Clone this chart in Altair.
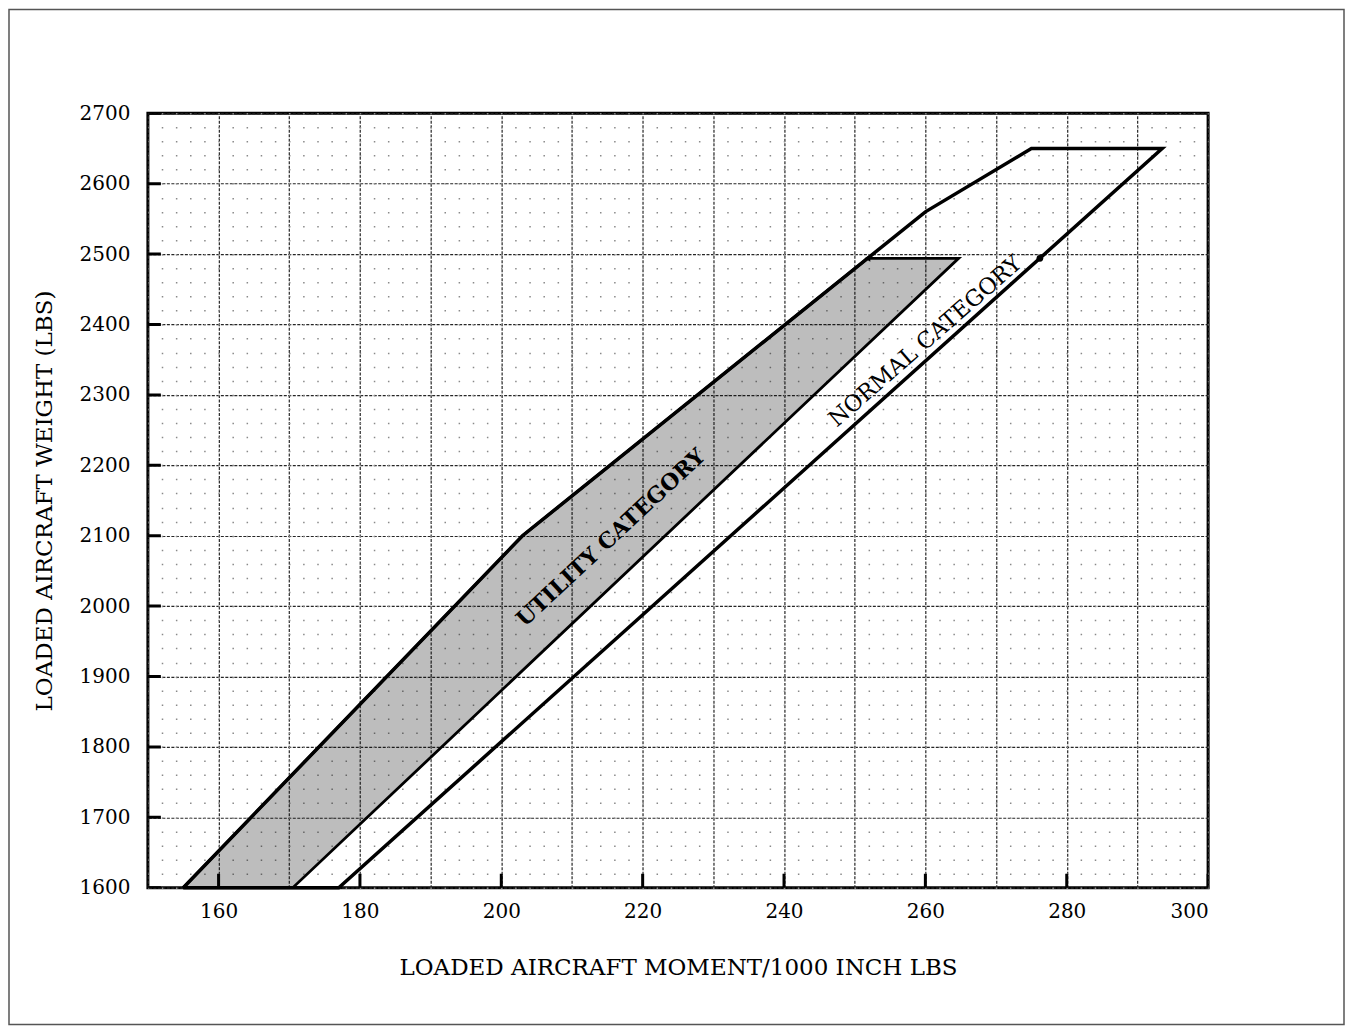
import altair as alt
import pandas as pd

# ---------------- data ----------------
x_tick_labels = [160, 180, 200, 220, 240, 260, 280, 300]
y_tick_labels = [1600, 1700, 1800, 1900, 2000, 2100, 2200, 2300, 2400, 2500, 2600, 2700]
x_grid_major = [150, 160, 170, 180, 190, 200, 210, 220, 230, 240, 250, 260, 270, 280, 290, 300]
y_grid_major = y_tick_labels
y_grid_minor = list(range(1600, 2701, 20))

# Normal category envelope (moment/1000, weight)
normal_x = [155.0, 203.0, 260.0, 275.0, 293.5, 177.0, 155.0]
normal_y = [1600, 2100, 2560, 2650, 2650, 1600, 1600]

# Utility category envelope (shaded)
utility_x = [155.0, 203.0, 251.8, 264.7, 170.5, 155.0]
utility_y = [1600, 2100, 2494, 2494, 1600, 1600]

label_text = ["UTILITY CATEGORY", "NORMAL CATEGORY"]
label_x = [215.5, 260.0]
label_y = [2097, 2376]
label_angle = [317, 319]

marker_x = [251.8, 276.2]
marker_y = [2494, 2494]
marker_shape = ["triangle-left", "circle"]

X_DOMAIN = [150, 300]
Y_DOMAIN = [1600, 2700]
X_TITLE = "LOADED AIRCRAFT MOMENT/1000 INCH LBS"
Y_TITLE = "LOADED AIRCRAFT WEIGHT (LBS)"

# ---------------- chart ----------------
W, H = 1061, 775
FONT = "DejaVu Serif"
xs = alt.Scale(domain=X_DOMAIN, nice=False, zero=False)
ys = alt.Scale(domain=Y_DOMAIN, nice=False, zero=False)

normal_df = pd.DataFrame({"x": normal_x, "y": normal_y, "i": list(range(len(normal_x)))})
utility_df = pd.DataFrame({"x": utility_x, "y": utility_y, "i": list(range(len(utility_x)))})

normal_layer = alt.Chart(normal_df).mark_line(
    stroke="black", strokeWidth=3.5, strokeJoin="miter"
).encode(
    x=alt.X("x:Q", scale=xs, axis=alt.Axis(
        orient="top", values=x_grid_major, grid=True, gridColor="#262626",
        gridDash=[3, 1.5], gridWidth=1.2, labels=False, ticks=False, domain=False, title="")),
    y=alt.Y("y:Q", scale=ys, axis=alt.Axis(
        orient="right", values=y_grid_major, grid=True, gridColor="#262626",
        gridDash=[3, 1.5], gridWidth=1.2, labels=False, ticks=False, domain=False, title="")),
    order="i:Q",
)

utility_layer = alt.Chart(utility_df).mark_line(
    fill="#000000", fillOpacity=0.26, stroke="black", strokeWidth=2.8, strokeJoin="miter"
).encode(
    x=alt.X("x:Q", scale=xs, axis=None),
    y=alt.Y("y:Q", scale=ys, axis=alt.Axis(
        orient="right", values=y_grid_minor, grid=True, gridColor="#8a8a8a",
        gridDash=[1.5, 12.647], gridDashOffset=0.75, gridWidth=1.5,
        labels=False, ticks=False, domain=False, title="")),
    order="i:Q",
)

xt_df = pd.DataFrame({"x": x_tick_labels, "y": [Y_DOMAIN[0]] * len(x_tick_labels)})
x_ticks_layer = alt.Chart(xt_df).mark_tick(
    orient="vertical", size=28, thickness=3, color="black", opacity=1, clip=True
).encode(
    x=alt.X("x:Q", scale=xs, axis=alt.Axis(
        orient="bottom", values=x_tick_labels, format="d", grid=False, ticks=False, domain=False,
        labelPadding=14, title=X_TITLE, titlePadding=35)),
    y=alt.Y("y:Q", scale=ys, axis=None),
)

yt_df = pd.DataFrame({"y": y_tick_labels, "x": [X_DOMAIN[0]] * len(y_tick_labels)})
y_ticks_layer = alt.Chart(yt_df).mark_tick(
    orient="horizontal", size=26, thickness=3, color="black", opacity=1, clip=True
).encode(
    y=alt.Y("y:Q", scale=ys, axis=alt.Axis(
        orient="left", values=y_tick_labels, format="d", grid=False, ticks=False, domain=False,
        labelPadding=18, title=Y_TITLE, titlePadding=23)),
    x=alt.X("x:Q", scale=xs, axis=None),
)

util_text = alt.Chart(pd.DataFrame({
    "t": [label_text[0]], "x": [label_x[0]], "y": [label_y[0]], "a": [label_angle[0]]
})).mark_text(
    font=FONT, fontSize=22, fontWeight="bold", align="center", baseline="middle", color="black"
).encode(
    x=alt.X("x:Q", scale=xs, axis=None),
    y=alt.Y("y:Q", scale=ys, axis=None),
    text="t:N",
    angle=alt.Angle("a:Q", scale=None),
)

norm_text = alt.Chart(pd.DataFrame({
    "t": [label_text[1]], "x": [label_x[1]], "y": [label_y[1]], "a": [label_angle[1]]
})).mark_text(
    font=FONT, fontSize=22.5, fontWeight="normal", align="center", baseline="middle", color="black"
).encode(
    x=alt.X("x:Q", scale=xs, axis=None),
    y=alt.Y("y:Q", scale=ys, axis=None),
    text="t:N",
    angle=alt.Angle("a:Q", scale=None),
)

markers = alt.Chart(pd.DataFrame({"x": marker_x, "y": marker_y, "s": marker_shape})).mark_point(
    filled=True, color="black", size=45, opacity=1
).encode(
    x=alt.X("x:Q", scale=xs, axis=None),
    y=alt.Y("y:Q", scale=ys, axis=None),
    shape=alt.Shape("s:N", scale=None),
)

frame = alt.Chart(pd.DataFrame({"k": [0]})).mark_rect(
    fillOpacity=0, stroke="#555555", strokeWidth=1.5
).encode(
    x=alt.value(-139), x2=alt.value(W + 136),
    y=alt.value(-104), y2=alt.value(H + 137),
)

chart = alt.layer(
    normal_layer, utility_layer, x_ticks_layer, y_ticks_layer,
    util_text, norm_text, markers, frame
).resolve_axis(
    x="independent", y="independent"
).properties(
    width=W, height=H, padding=0, background="white"
).configure_view(
    stroke="black", strokeWidth=3
).configure_axis(
    labelFont=FONT, titleFont=FONT, labelColor="black", titleColor="black",
    labelFontSize=20, titleFontSize=23, titleFontWeight="normal",
)

chart.save("out.html", embed_options={"renderer": "svg", "actions": False})
